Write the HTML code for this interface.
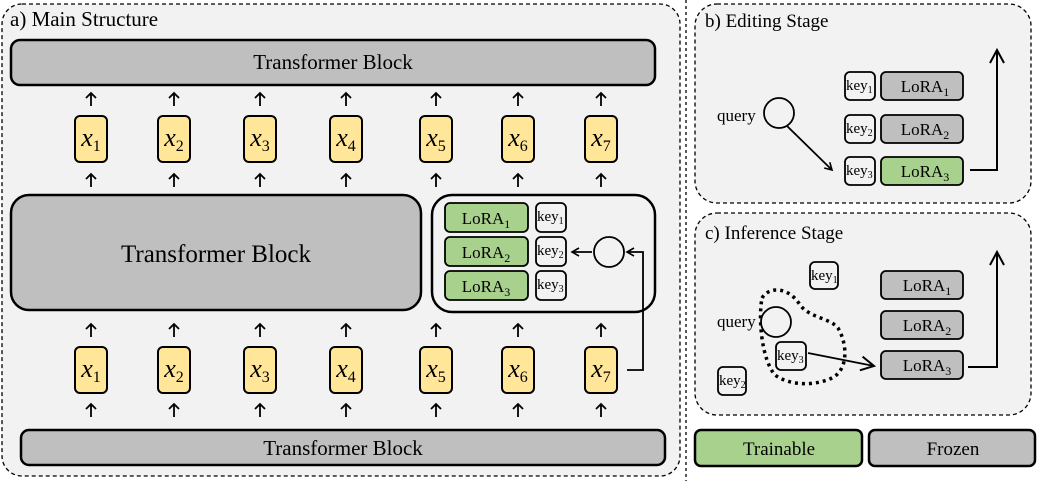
<!DOCTYPE html>
<html><head><meta charset="utf-8"><style>
body{margin:0;background:#fff}
svg{display:block}
text{font-family:"Liberation Serif",serif;fill:#000}
</style></head><body>
<svg width="1037" height="481" viewBox="0 0 1037 481" xmlns="http://www.w3.org/2000/svg">
<defs>
<marker id="ah" markerWidth="10" markerHeight="10" refX="8" refY="5" orient="auto" markerUnits="userSpaceOnUse">
<path d="M1,1 L8,5 L1,9" fill="none" stroke="#000" stroke-width="1.6"/></marker>
<marker id="ahb" markerWidth="18" markerHeight="18" refX="15" refY="9" orient="auto" markerUnits="userSpaceOnUse">
<path d="M2,2 L15,9 L2,16" fill="none" stroke="#000" stroke-width="2"/></marker>
</defs>
<rect width="1037" height="481" fill="#fff"/>
<rect x="2" y="4" width="678" height="472" rx="20" fill="#f2f2f2" stroke="#000" stroke-width="1.3" stroke-dasharray="4,3"/>
<line x1="686" y1="0" x2="686" y2="481" stroke="#000" stroke-width="1.3" stroke-dasharray="3,3"/>
<text x="10" y="26" font-size="21">a) Main Structure</text>
<rect x="11" y="40" width="644" height="45" rx="9" fill="#bfbfbf" stroke="#000" stroke-width="2.5"/>
<text x="333" y="69" font-size="21" text-anchor="middle">Transformer Block</text>
<rect x="11" y="195" width="410" height="115" rx="18" fill="#bfbfbf" stroke="#000" stroke-width="2.5"/>
<text x="216" y="262" font-size="25" text-anchor="middle">Transformer Block</text>
<rect x="432" y="195" width="223" height="117" rx="20" fill="#f2f2f2" stroke="#000" stroke-width="2.5"/>
<g stroke="#000" stroke-width="1.8">
<rect x="445" y="203" width="83" height="29" rx="5" fill="#a9d18e"/>
<rect x="445" y="237" width="83" height="29" rx="5" fill="#a9d18e"/>
<rect x="445" y="271" width="83" height="29" rx="5" fill="#a9d18e"/>
<rect x="536" y="203" width="30" height="29" rx="5" fill="#f2f2f2"/>
<rect x="536" y="237" width="30" height="29" rx="5" fill="#f2f2f2"/>
<rect x="536" y="271" width="30" height="29" rx="5" fill="#f2f2f2"/>
<circle cx="609" cy="252" r="15" fill="#f2f2f2"/>
</g>
<g font-size="17" text-anchor="middle">
<text x="486" y="224">LoRA<tspan font-size="12" dy="4">1</tspan></text>
<text x="486" y="258">LoRA<tspan font-size="12" dy="4">2</tspan></text>
<text x="486" y="292">LoRA<tspan font-size="12" dy="4">3</tspan></text>
</g>
<g font-size="15">
<text x="537" y="221">key<tspan font-size="10" dy="3">1</tspan></text>
<text x="537" y="255">key<tspan font-size="10" dy="3">2</tspan></text>
<text x="537" y="289">key<tspan font-size="10" dy="3">3</tspan></text>
</g>
<g stroke="#000" stroke-width="1.8" fill="none">
<line x1="592" y1="252" x2="572" y2="252" marker-end="url(#ah)"/>
<polyline points="627,370 643,370 643,252 627,252" marker-end="url(#ah)"/>
</g>
<rect x="21" y="430" width="644" height="35" rx="8" fill="#bfbfbf" stroke="#000" stroke-width="2.5"/>
<text x="343" y="455" font-size="21" text-anchor="middle">Transformer Block</text>

<rect x="695" y="4" width="336" height="199" rx="22" fill="#f2f2f2" stroke="#000" stroke-width="1.3" stroke-dasharray="4,3"/>
<text x="705" y="27" font-size="19">b) Editing Stage</text>
<text x="717" y="121" font-size="17">query</text>
<circle cx="779" cy="113" r="15" fill="#f2f2f2" stroke="#000" stroke-width="1.8"/>
<line x1="787" y1="126" x2="832" y2="170" stroke="#000" stroke-width="1.8" marker-end="url(#ah)"/>
<g stroke="#000" stroke-width="1.8">
<rect x="845" y="72" width="30" height="28" rx="5" fill="#f2f2f2"/>
<rect x="845" y="115" width="30" height="28" rx="5" fill="#f2f2f2"/>
<rect x="845" y="157" width="30" height="28" rx="5" fill="#f2f2f2"/>
<rect x="881" y="72" width="82" height="28" rx="5" fill="#bfbfbf"/>
<rect x="881" y="115" width="82" height="28" rx="5" fill="#bfbfbf"/>
<rect x="881" y="157" width="82" height="28" rx="5" fill="#a9d18e"/>
</g>
<g font-size="15">
<text x="846" y="90">key<tspan font-size="10" dy="3">1</tspan></text>
<text x="846" y="133">key<tspan font-size="10" dy="3">2</tspan></text>
<text x="846" y="175">key<tspan font-size="10" dy="3">3</tspan></text>
</g>
<g font-size="17" text-anchor="middle">
<text x="925" y="92">LoRA<tspan font-size="12" dy="4">1</tspan></text>
<text x="925" y="135">LoRA<tspan font-size="12" dy="4">2</tspan></text>
<text x="925" y="177">LoRA<tspan font-size="12" dy="4">3</tspan></text>
</g>
<polyline points="970,170 997,170 997,50" fill="none" stroke="#000" stroke-width="2" marker-end="url(#ahb)"/>

<rect x="695" y="213" width="336" height="202" rx="22" fill="#f2f2f2" stroke="#000" stroke-width="1.3" stroke-dasharray="4,3"/>
<text x="705" y="239" font-size="19">c) Inference Stage</text>
<path d="M762,298 C770,285 790,288 800,305 C810,318 830,318 838,328 C848,345 848,370 832,378 C815,386 790,386 775,375 C762,360 758,320 762,298Z" fill="none" stroke="#000" stroke-width="3.5" stroke-dasharray="3,4"/>
<g stroke="#000" stroke-width="1.8">
<rect x="810" y="262" width="28" height="27" rx="5" fill="#f2f2f2"/>
<rect x="776" y="342" width="30" height="28" rx="5" fill="#f2f2f2"/>
<rect x="718" y="367" width="28" height="28" rx="5" fill="#f2f2f2"/>
<circle cx="776" cy="322" r="15" fill="#f2f2f2"/>
<rect x="881" y="271" width="82" height="28" rx="5" fill="#bfbfbf"/>
<rect x="881" y="311" width="82" height="28" rx="5" fill="#bfbfbf"/>
<rect x="881" y="351" width="82" height="28" rx="5" fill="#bfbfbf"/>
</g>
<text x="717" y="327" font-size="17">query</text>
<g font-size="15">
<text x="811" y="280">key<tspan font-size="10" dy="3">1</tspan></text>
<text x="777" y="360">key<tspan font-size="10" dy="3">3</tspan></text>
<text x="719" y="385">key<tspan font-size="10" dy="3">2</tspan></text>
</g>
<g font-size="17" text-anchor="middle">
<text x="927" y="291">LoRA<tspan font-size="12" dy="4">1</tspan></text>
<text x="927" y="331">LoRA<tspan font-size="12" dy="4">2</tspan></text>
<text x="927" y="371">LoRA<tspan font-size="12" dy="4">3</tspan></text>
</g>
<line x1="808" y1="353" x2="874" y2="366" stroke="#000" stroke-width="1.8" marker-end="url(#ahb)"/>
<polyline points="968,367 997,367 997,252" fill="none" stroke="#000" stroke-width="2" marker-end="url(#ahb)"/>

<rect x="695" y="430" width="167" height="36" rx="6" fill="#a9d18e" stroke="#000" stroke-width="2.5"/>
<text x="779" y="455" font-size="19" text-anchor="middle">Trainable</text>
<rect x="869" y="430" width="166" height="36" rx="6" fill="#bfbfbf" stroke="#000" stroke-width="2.5"/>
<text x="953" y="455" font-size="19" text-anchor="middle">Frozen</text>

<g stroke="#000" stroke-width="1.8" fill="none">
<path d="M91,106V93M86,98L91,93L96,98M174,106V93M169,98L174,93L179,98M260,106V93M255,98L260,93L265,98M346,106V93M341,98L346,93L351,98M436,106V93M431,98L436,93L441,98M518,106V93M513,98L518,93L523,98M601,106V93M596,98L601,93L606,98"/>
<path d="M91,187V174M86,179L91,174L96,179M174,187V174M169,179L174,174L179,179M260,187V174M255,179L260,174L265,179M346,187V174M341,179L346,174L351,179M436,187V174M431,179L436,174L441,179M518,187V174M513,179L518,174L523,179M601,187V174M596,179L601,174L606,179"/>
<path d="M91,337V324M86,329L91,324L96,329M174,337V324M169,329L174,324L179,329M260,337V324M255,329L260,324L265,329M346,337V324M341,329L346,324L351,329M436,337V324M431,329L436,324L441,329M518,337V324M513,329L518,324L523,329M601,337V324M596,329L601,324L606,329"/>
<path d="M91,417V404M86,409L91,404L96,409M174,417V404M169,409L174,404L179,409M260,417V404M255,409L260,404L265,409M346,417V404M341,409L346,404L351,409M436,417V404M431,409L436,404L441,409M518,417V404M513,409L518,404L523,409M601,417V404M596,409L601,404L606,409"/>
</g>
<g fill="#ffe699" stroke="#000" stroke-width="2">
<rect x="75" y="116" width="32" height="46" rx="5"/><rect x="158" y="116" width="32" height="46" rx="5"/><rect x="244" y="116" width="32" height="46" rx="5"/><rect x="330" y="116" width="32" height="46" rx="5"/><rect x="420" y="116" width="32" height="46" rx="5"/><rect x="502" y="116" width="32" height="46" rx="5"/><rect x="585" y="116" width="32" height="46" rx="5"/>
<rect x="75" y="347" width="32" height="46" rx="5"/><rect x="158" y="347" width="32" height="46" rx="5"/><rect x="244" y="347" width="32" height="46" rx="5"/><rect x="330" y="347" width="32" height="46" rx="5"/><rect x="420" y="347" width="32" height="46" rx="5"/><rect x="502" y="347" width="32" height="46" rx="5"/><rect x="585" y="347" width="32" height="46" rx="5"/>
</g>
<g font-size="26" text-anchor="middle">
<text x="91" y="146"><tspan font-style="italic">x</tspan><tspan font-size="16" dy="5">1</tspan></text>
<text x="174" y="146"><tspan font-style="italic">x</tspan><tspan font-size="16" dy="5">2</tspan></text>
<text x="260" y="146"><tspan font-style="italic">x</tspan><tspan font-size="16" dy="5">3</tspan></text>
<text x="346" y="146"><tspan font-style="italic">x</tspan><tspan font-size="16" dy="5">4</tspan></text>
<text x="436" y="146"><tspan font-style="italic">x</tspan><tspan font-size="16" dy="5">5</tspan></text>
<text x="518" y="146"><tspan font-style="italic">x</tspan><tspan font-size="16" dy="5">6</tspan></text>
<text x="601" y="146"><tspan font-style="italic">x</tspan><tspan font-size="16" dy="5">7</tspan></text>
<text x="91" y="377"><tspan font-style="italic">x</tspan><tspan font-size="16" dy="5">1</tspan></text>
<text x="174" y="377"><tspan font-style="italic">x</tspan><tspan font-size="16" dy="5">2</tspan></text>
<text x="260" y="377"><tspan font-style="italic">x</tspan><tspan font-size="16" dy="5">3</tspan></text>
<text x="346" y="377"><tspan font-style="italic">x</tspan><tspan font-size="16" dy="5">4</tspan></text>
<text x="436" y="377"><tspan font-style="italic">x</tspan><tspan font-size="16" dy="5">5</tspan></text>
<text x="518" y="377"><tspan font-style="italic">x</tspan><tspan font-size="16" dy="5">6</tspan></text>
<text x="601" y="377"><tspan font-style="italic">x</tspan><tspan font-size="16" dy="5">7</tspan></text>
</g>
</svg>
</body></html>
